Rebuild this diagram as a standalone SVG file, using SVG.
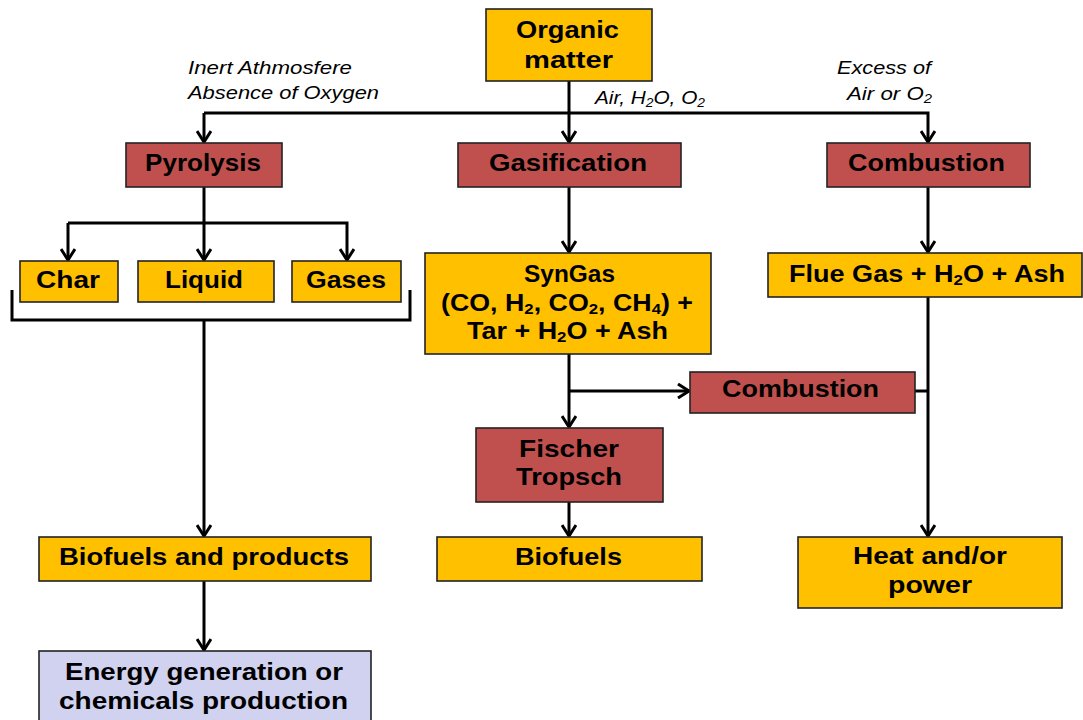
<svg xmlns="http://www.w3.org/2000/svg" width="1083" height="720" viewBox="0 0 1083 720">
<defs>
<style>
.y{fill:#FFC000;stroke:#222;stroke-width:1.6}
.r{fill:#C0504D;stroke:#222;stroke-width:1.6}
.l{fill:#D0D2F0;stroke:#222;stroke-width:1.6}
.t{font-family:"Liberation Sans",Arial,sans-serif;font-weight:bold;font-size:24px;fill:#000}
.i{font-family:"Liberation Sans",Arial,sans-serif;font-style:italic;font-size:18px;fill:#000}
.s{font-size:15px}
.si{font-size:12px}
.c{fill:none;stroke:#000;stroke-width:3}
</style>
<marker id="b" markerUnits="userSpaceOnUse" viewBox="-13 -8 15 16" refX="0" refY="0" markerWidth="15" markerHeight="16" orient="auto">
<path d="M-11,-7 L0,0 L-11,7" fill="none" stroke="#000" stroke-width="3"/>
</marker>
</defs>
<rect width="1083" height="720" fill="#fff"/>
<g id="connectors">
<path class="c" d="M569,81 V142" marker-end="url(#b)"/>
<path class="c" d="M204,113 H928 V142" marker-end="url(#b)"/>
<path class="c" d="M204,113 V142" marker-end="url(#b)"/>
<path class="c" d="M204,187 V260" marker-end="url(#b)"/>
<path class="c" d="M68,223 H347 V260" marker-end="url(#b)"/>
<path class="c" d="M68,223 V260" marker-end="url(#b)"/>
<path class="c" d="M12,290 V320 H410 V290"/>
<path class="c" d="M204,320 V536" marker-end="url(#b)"/>
<path class="c" d="M569,187 V252" marker-end="url(#b)"/>
<path class="c" d="M928,187 V252" marker-end="url(#b)"/>
<path class="c" d="M569,354 V427" marker-end="url(#b)"/>
<path class="c" d="M569,391 H689" marker-end="url(#b)"/>
<path class="c" d="M915,391 H928"/>
<path class="c" d="M928,297 V536" marker-end="url(#b)"/>
<path class="c" d="M569,502 V536" marker-end="url(#b)"/>
<path class="c" d="M204,581 V650" marker-end="url(#b)"/>
</g>
<g id="labels">
<text class="i" x="188" y="74" textLength="164" lengthAdjust="spacingAndGlyphs">Inert Athmosfere</text>
<text class="i" x="188" y="99" textLength="191" lengthAdjust="spacingAndGlyphs">Absence of Oxygen</text>
<text class="i" x="595" y="104" textLength="110" lengthAdjust="spacingAndGlyphs">Air, H<tspan class="si" dy="3">2</tspan><tspan dy="-3">O, O</tspan><tspan class="si" dy="3">2</tspan></text>
<text class="i" x="837" y="74" textLength="94" lengthAdjust="spacingAndGlyphs">Excess of</text>
<text class="i" x="847" y="100" textLength="85" lengthAdjust="spacingAndGlyphs">Air or O<tspan class="si" dy="3">2</tspan></text>
</g>
<g id="organic">
<rect class="y" x="486" y="9" width="166" height="72"/>
<text class="t" x="516" y="38" textLength="103" lengthAdjust="spacingAndGlyphs">Organic</text>
<text class="t" x="524" y="68" textLength="89" lengthAdjust="spacingAndGlyphs">matter</text>
</g>
<g id="pyrolysis">
<rect class="r" x="126" y="143" width="156" height="44"/>
<text class="t" x="145" y="171" textLength="116" lengthAdjust="spacingAndGlyphs">Pyrolysis</text>
</g>
<g id="gasification">
<rect class="r" x="458" y="143" width="223" height="44"/>
<text class="t" x="489" y="171" textLength="158" lengthAdjust="spacingAndGlyphs">Gasification</text>
</g>
<g id="combustion1">
<rect class="r" x="827" y="143" width="203" height="44"/>
<text class="t" x="848" y="171" textLength="157" lengthAdjust="spacingAndGlyphs">Combustion</text>
</g>
<g id="char">
<rect class="y" x="20" y="261" width="98" height="41"/>
<text class="t" x="36" y="288" textLength="64" lengthAdjust="spacingAndGlyphs">Char</text>
</g>
<g id="liquid">
<rect class="y" x="138" y="261" width="136" height="41"/>
<text class="t" x="165" y="288" textLength="78" lengthAdjust="spacingAndGlyphs">Liquid</text>
</g>
<g id="gases">
<rect class="y" x="292" y="261" width="109" height="41"/>
<text class="t" x="306" y="288" textLength="80" lengthAdjust="spacingAndGlyphs">Gases</text>
</g>
<g id="syngas">
<rect class="y" x="425" y="253" width="286" height="101"/>
<text class="t" x="524" y="282" textLength="91" lengthAdjust="spacingAndGlyphs">SynGas</text>
<text class="t" x="441" y="311" textLength="252" lengthAdjust="spacingAndGlyphs">(CO, H<tspan class="s" dy="3">2</tspan><tspan dy="-3">, CO</tspan><tspan class="s" dy="3">2</tspan><tspan dy="-3">, CH</tspan><tspan class="s" dy="3">4</tspan><tspan dy="-3">) +</tspan></text>
<text class="t" x="467" y="339" textLength="201" lengthAdjust="spacingAndGlyphs">Tar + H<tspan class="s" dy="3">2</tspan><tspan dy="-3">O + Ash</tspan></text>
</g>
<g id="fluegas">
<rect class="y" x="768" y="253" width="314" height="44"/>
<text class="t" x="789" y="282" textLength="276" lengthAdjust="spacingAndGlyphs">Flue Gas + H<tspan class="s" dy="3">2</tspan><tspan dy="-3">O + Ash</tspan></text>
</g>
<g id="combustion2">
<rect class="r" x="690" y="372" width="225" height="41"/>
<text class="t" x="722" y="397" textLength="157" lengthAdjust="spacingAndGlyphs">Combustion</text>
</g>
<g id="fischer">
<rect class="r" x="476" y="428" width="187" height="74"/>
<text class="t" x="519" y="457" textLength="100" lengthAdjust="spacingAndGlyphs">Fischer</text>
<text class="t" x="516" y="485" textLength="106" lengthAdjust="spacingAndGlyphs">Tropsch</text>
</g>
<g id="biofuels-products">
<rect class="y" x="39" y="537" width="332" height="44"/>
<text class="t" x="59" y="565" textLength="290" lengthAdjust="spacingAndGlyphs">Biofuels and products</text>
</g>
<g id="biofuels">
<rect class="y" x="437" y="537" width="265" height="44"/>
<text class="t" x="515" y="565" textLength="107" lengthAdjust="spacingAndGlyphs">Biofuels</text>
</g>
<g id="heat">
<rect class="y" x="798" y="537" width="264" height="71"/>
<text class="t" x="853" y="564" textLength="154" lengthAdjust="spacingAndGlyphs">Heat and/or</text>
<text class="t" x="888" y="593" textLength="84" lengthAdjust="spacingAndGlyphs">power</text>
</g>
<g id="energy">
<rect class="l" x="39" y="651" width="332" height="72"/>
<text class="t" x="65" y="680" textLength="278" lengthAdjust="spacingAndGlyphs">Energy generation or</text>
<text class="t" x="59" y="709" textLength="289" lengthAdjust="spacingAndGlyphs">chemicals production</text>
</g>
</svg>
